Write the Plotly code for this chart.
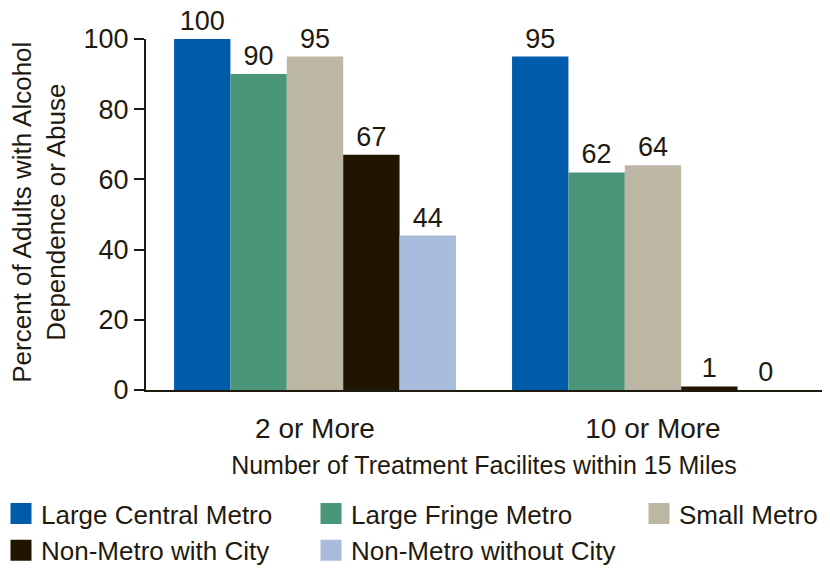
import plotly.graph_objects as go

categories = ["2 or More", "10 or More"]
series_names = ["Large Central Metro", "Large Fringe Metro", "Small Metro",
                "Non-Metro with City", "Non-Metro without City"]
series_values = [
    [100, 95],
    [90, 62],
    [95, 64],
    [67, 1],
    [44, 0],
]
series_colors = ["#005BAA", "#4A9679", "#BCB6A5", "#201600", "#A9BCDD"]
legend_slots = ["legend", "legend2", "legend3", "legend", "legend2"]
y_ticks = [0, 20, 40, 60, 80, 100]
y_title = "Percent of Adults with Alcohol<br>Dependence or Abuse"
x_title = "Number of Treatment Facilites within 15 Miles"

TXT = "#1F1A10"
FONT = "Liberation Sans, Arial, sans-serif"

fig = go.Figure()
for name, vals, col in zip(series_names, series_values, series_colors):
    fig.add_trace(go.Bar(
        x=categories, y=vals, name=name, marker=dict(color=col, line=dict(width=0)),
        text=[str(v) for v in vals], textposition="outside", cliponaxis=False,
        textfont=dict(size=27, color=TXT, family=FONT), showlegend=False,
    ))
# legend entries with larger square swatches
for name, col, lg in zip(series_names, series_colors, legend_slots):
    fig.add_trace(go.Scatter(
        x=[None], y=[None], mode="markers", name=name, legend=lg,
        marker=dict(symbol="square", size=16, color=col, line=dict(color=col, width=6)),
        showlegend=True, hoverinfo="skip",
    ))

def legend_cfg(xpx):
    return dict(
        orientation="v", xref="container", yref="container",
        x=xpx / 830, y=(568 - 490) / 568, xanchor="left", yanchor="top",
        itemsizing="trace", font=dict(size=26, color=TXT, family=FONT),
        traceorder="normal", bgcolor="rgba(0,0,0,0)", tracegroupgap=0,
    )

fig.update_layout(
    width=830, height=568,
    margin=dict(l=146, r=8, t=39, b=178, autoexpand=False),
    paper_bgcolor="white", plot_bgcolor="white",
    barmode="group", bargap=0.166, bargroupgap=0,
    font=dict(family=FONT, color=TXT),
    showlegend=True,
    legend=legend_cfg(1),
    legend2=legend_cfg(311),
    legend3=legend_cfg(639),
    xaxis=dict(
        showline=True, linecolor=TXT, linewidth=2, ticks="", showgrid=False,
        tickfont=dict(size=28, color=TXT, family=FONT), ticklabelstandoff=12,
        title=dict(text=x_title, font=dict(size=25, color=TXT, family=FONT), standoff=14),
    ),
    yaxis=dict(
        range=[0, 100], tickvals=y_ticks, ticks="outside", ticklen=10, tickwidth=2,
        tickcolor=TXT, showline=True, linecolor=TXT, linewidth=2, showgrid=False,
        zeroline=False, tickfont=dict(size=27, color=TXT, family=FONT),
    ),
    annotations=[dict(
        text=y_title, xref="paper", yref="paper",
        x=(39 - 146) / 676, y=0.505, xanchor="center", yanchor="middle",
        textangle=-90, showarrow=False, align="center",
        font=dict(size=26, color=TXT, family=FONT),
    )],
)

fig.write_html("out.html")
